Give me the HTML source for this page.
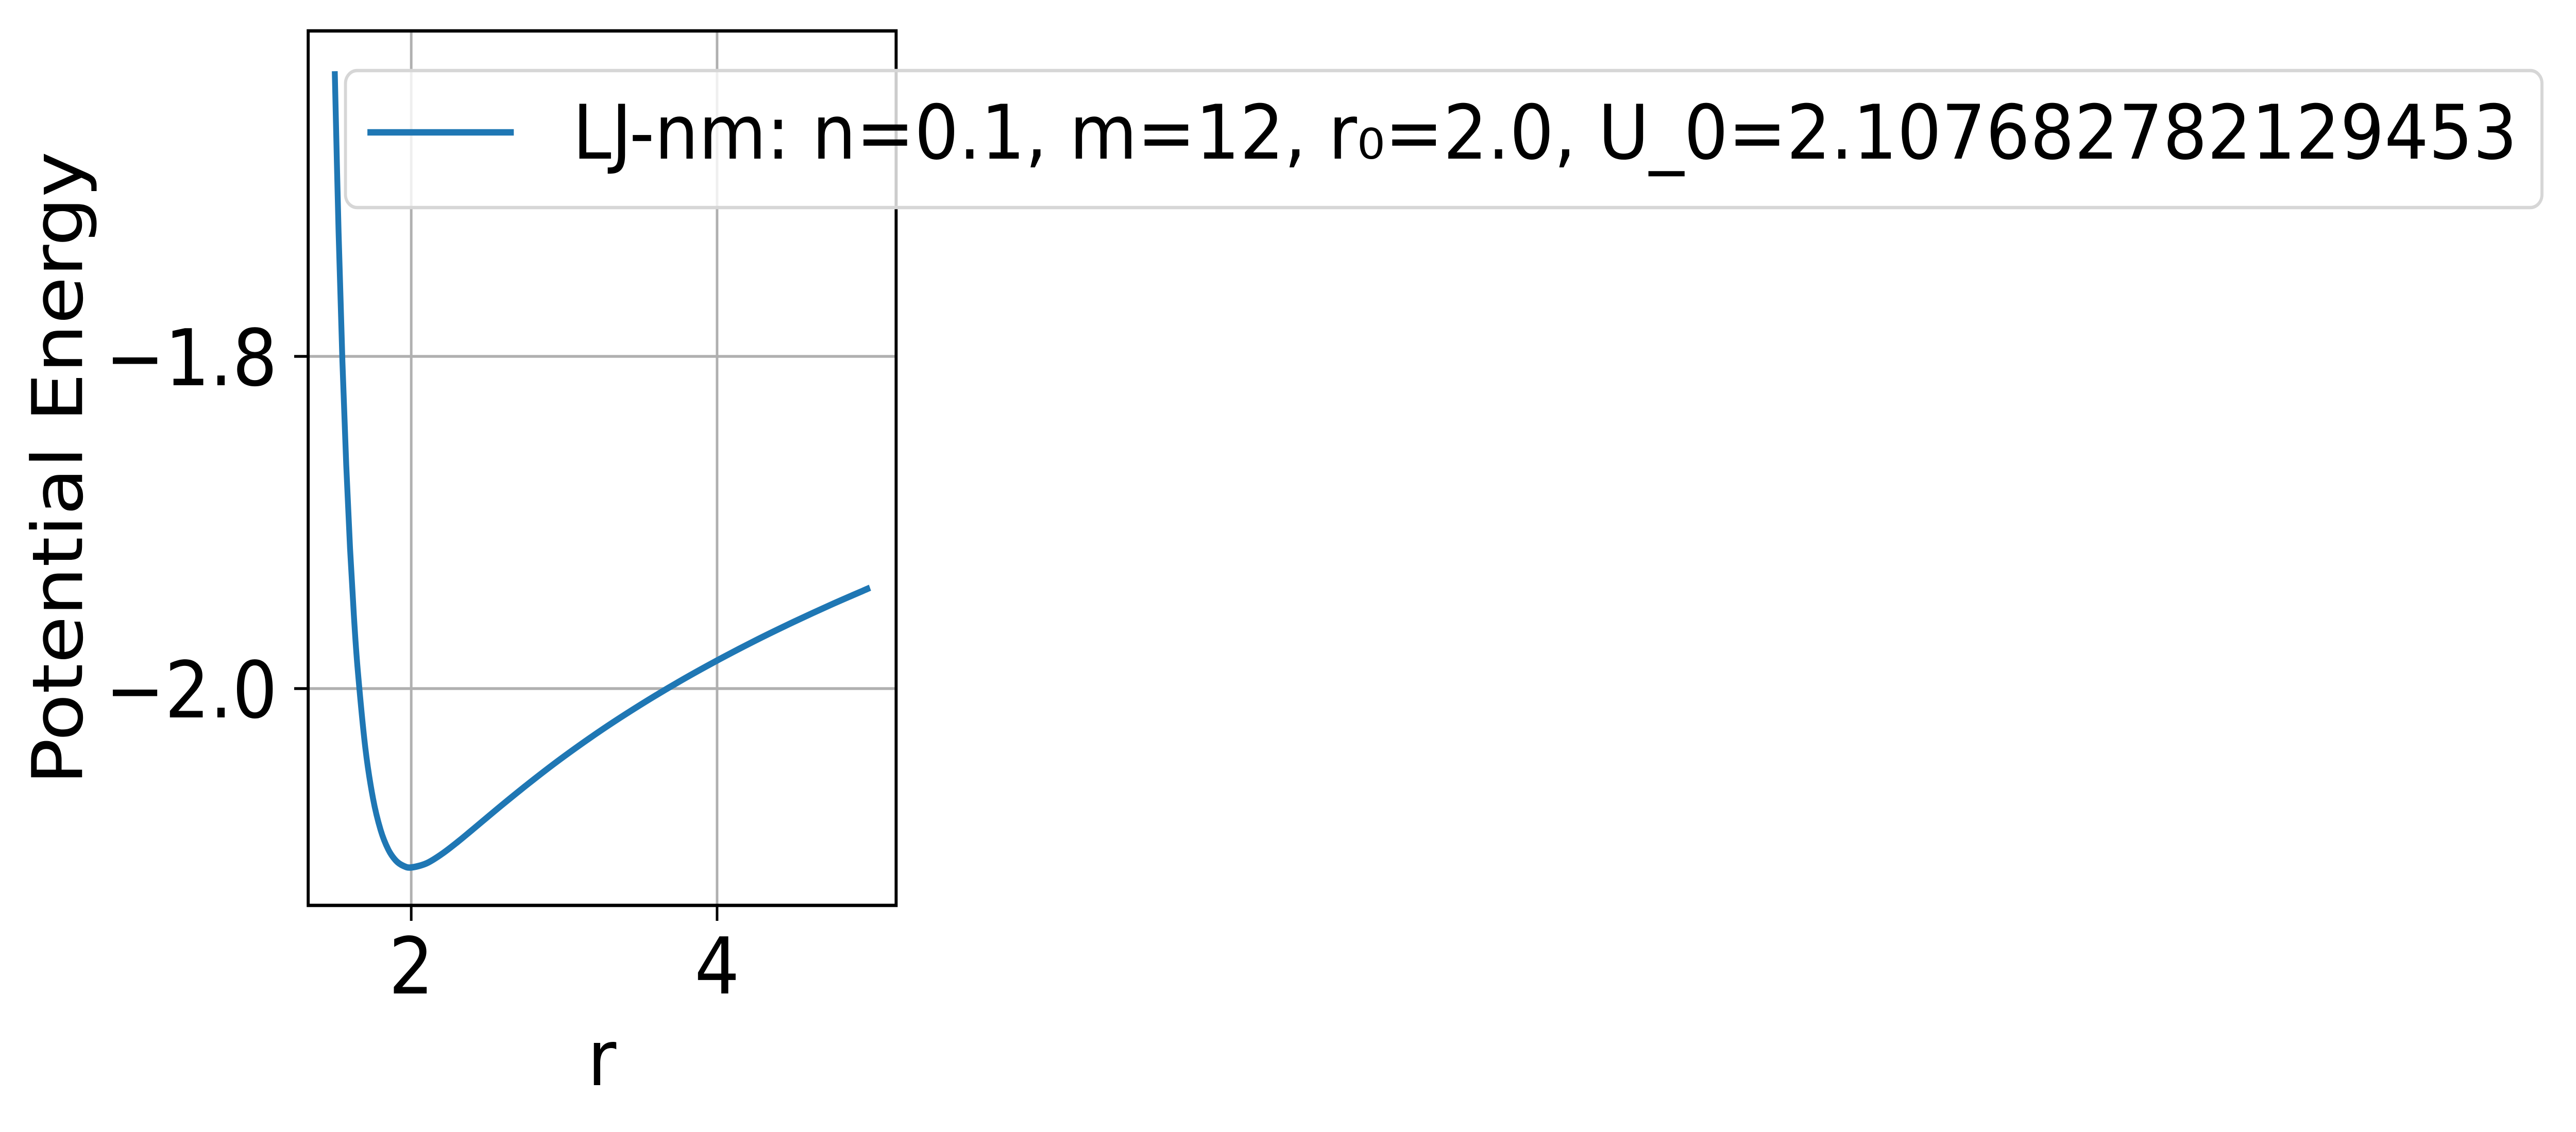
<!DOCTYPE html>
<html><head><meta charset="utf-8"><style>
html,body{margin:0;padding:0;background:#fff;width:100%;height:100%;overflow:hidden;}
svg{display:block;width:100vw;height:100vh;}
svg text{font-family:"DejaVu Sans","Liberation Sans",sans-serif;fill:#000;}
</style></head><body>
<svg id="chart" viewBox="0 0 5525 2198" preserveAspectRatio="none" xmlns="http://www.w3.org/2000/svg">
<rect width="5525" height="2198" fill="#fff"/>
<g id="grid"></g>
<g id="series"></g>
<rect x="661" y="60" width="1261" height="1698" fill="none" stroke="#000" stroke-width="6.5"/>
<g id="ticks"></g>
<text x="1291" y="2107" font-size="150" text-anchor="middle">r</text>
<text transform="translate(176,909) rotate(-90)" font-size="150" text-anchor="middle">Potential Energy</text>
<g>
<rect x="741" y="137" width="4711" height="266" rx="25" fill="#fff" fill-opacity="0.8" stroke="#d6d6d6" stroke-width="6.5"/>
<line x1="788" y1="257" x2="1102" y2="257" stroke="#1f77b4" stroke-width="12.5"/>
<text x="1228" y="308" font-size="146" textLength="4171" lengthAdjust="spacingAndGlyphs">LJ-nm: n=0.1, m=12, r₀=2.0, U_0=2.107682782129453</text>
</g>
</svg>
<script>
const rValues = [1.5,1.525,1.55,1.575,1.6,1.625,1.65,1.7,1.75,1.8,1.85,1.9,1.95,2.0,2.1,2.2,2.3,2.4,2.6,2.8,3.0,3.25,3.5,3.75,4.0,4.25,4.5,4.75,5.0];
const uValues = [-1.6283,-1.7253,-1.8031,-1.8654,-1.9157,-1.9560,-1.9885,-2.0358,-2.0661,-2.0852,-2.0969,-2.1036,-2.1068,-2.1077,-2.1052,-2.0996,-2.0926,-2.0850,-2.0696,-2.0548,-2.0408,-2.0246,-2.0097,-1.9959,-1.9831,-1.9711,-1.9599,-1.9493,-1.9393];
const xTicks = [2,4];
const xTickLabels = ["2","4"];
const yTicks = [-1.8,-2.0];
const yTickLabels = ["\u22121.8","\u22122.0"];
const NS="http://www.w3.org/2000/svg";
function xs(v){return 882+(v-2)*328;}
function ys(v){return 692+(-1.8-v)/0.2*645;}
const grid=document.getElementById('grid'), ticks=document.getElementById('ticks'), series=document.getElementById('series');
xTicks.forEach((t,i)=>{
  const g=document.createElementNS(NS,'line');
  g.setAttribute('x1',xs(t));g.setAttribute('x2',xs(t));g.setAttribute('y1',60);g.setAttribute('y2',1758);
  g.setAttribute('stroke','#b0b0b0');g.setAttribute('stroke-width','5.5');
  
  
  grid.appendChild(g);
  const tk=document.createElementNS(NS,'line');
  tk.setAttribute('x1',xs(t));tk.setAttribute('x2',xs(t));tk.setAttribute('y1',1758);tk.setAttribute('y2',1788);
  tk.setAttribute('stroke','#000');tk.setAttribute('stroke-width','5.5');
  
  
  ticks.appendChild(tk);
  const tx=document.createElementNS(NS,'text');
  tx.setAttribute('x',xs(t));tx.setAttribute('y',1929);tx.setAttribute('font-size','152');tx.setAttribute('text-anchor','middle');
  tx.textContent=xTickLabels[i];
  
  
  ticks.appendChild(tx);
});
yTicks.forEach((t,i)=>{
  const g=document.createElementNS(NS,'line');
  g.setAttribute('x1',661);g.setAttribute('x2',1922);g.setAttribute('y1',ys(t));g.setAttribute('y2',ys(t));
  g.setAttribute('stroke','#b0b0b0');g.setAttribute('stroke-width','5.5');
  
  
  grid.appendChild(g);
  const tk=document.createElementNS(NS,'line');
  tk.setAttribute('x1',631);tk.setAttribute('x2',661);tk.setAttribute('y1',ys(t));tk.setAttribute('y2',ys(t));
  tk.setAttribute('stroke','#000');tk.setAttribute('stroke-width','5.5');
  
  
  ticks.appendChild(tk);
  const tx=document.createElementNS(NS,'text');
  tx.setAttribute('x',595);tx.setAttribute('y',ys(t)+56);tx.setAttribute('font-size','152');tx.setAttribute('text-anchor','end');
  tx.textContent=yTickLabels[i];
  
  
  ticks.appendChild(tx);
});
const pts=rValues.map((r,i)=>[xs(r),ys(uValues[i])]);
let d='M'+pts[0][0]+','+pts[0][1];
for(let i=0;i<pts.length-1;i++){
  const p0=pts[i-1]||pts[i],p1=pts[i],p2=pts[i+1],p3=pts[i+2]||p2;
  const c1x=p1[0]+(p2[0]-p0[0])/6,c1y=p1[1]+(p2[1]-p0[1])/6;
  const c2x=p2[0]-(p3[0]-p1[0])/6,c2y=p2[1]-(p3[1]-p1[1])/6;
  d+=' C'+c1x+','+c1y+' '+c2x+','+c2y+' '+p2[0]+','+p2[1];
}
const path=document.createElementNS(NS,'path');
path.setAttribute('d',d);path.setAttribute('fill','none');path.setAttribute('stroke','#1f77b4');path.setAttribute('stroke-width','12.5');


series.appendChild(path);
</script>
</body></html>
